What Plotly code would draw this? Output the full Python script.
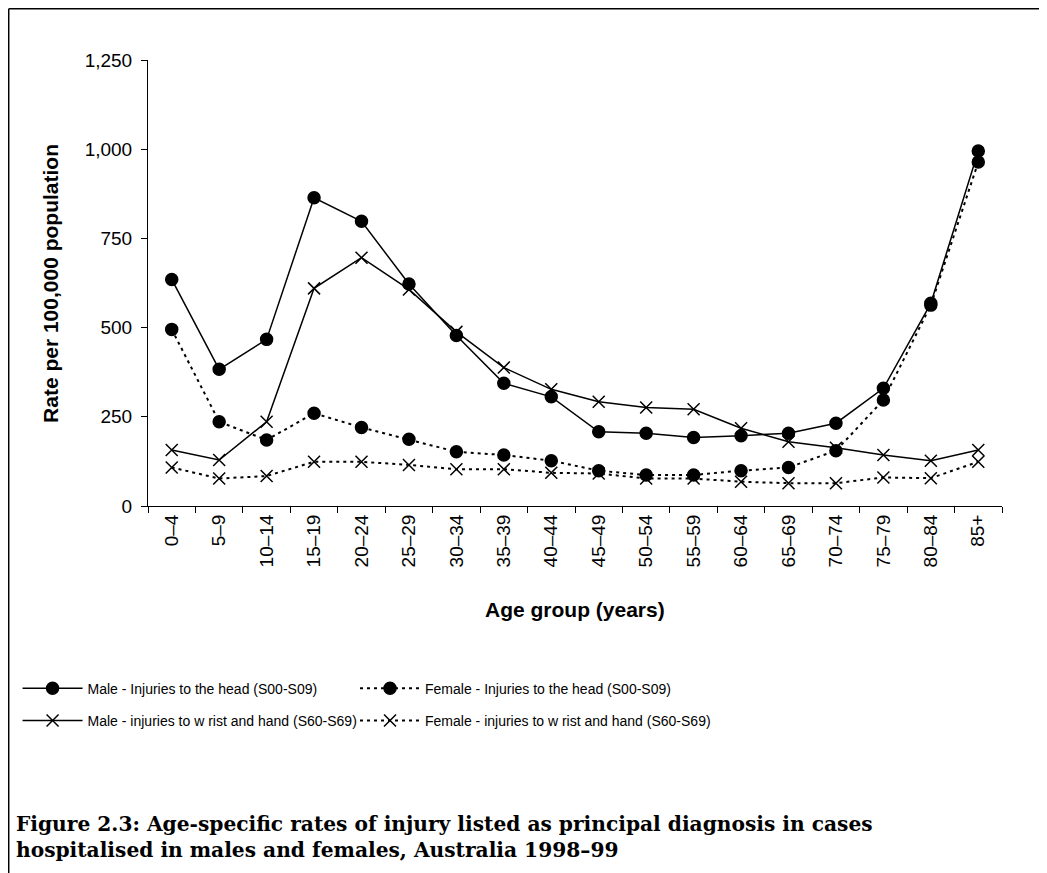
import plotly.graph_objects as go

# age groups and rates per 100,000 population
age_groups = ["0–4", "5–9", "10–14", "15–19", "20–24", "25–29", "30–34", "35–39", "40–44",
              "45–49", "50–54", "55–59", "60–64", "65–69", "70–74", "75–79", "80–84", "85+"]

male_head = [635, 383, 467, 864, 798, 622, 478, 344, 306, 208, 204, 192, 197, 204, 232, 330, 568, 995]
female_head = [495, 236, 185, 260, 220, 187, 152, 143, 127, 99, 87, 87, 99, 108, 155, 297, 563, 964]
male_wrist = [157, 129, 236, 610, 696, 607, 488, 388, 327, 292, 276, 271, 218, 180, 163, 143, 127, 157]
female_wrist = [108, 77, 84, 124, 124, 115, 103, 103, 93, 91, 77, 77, 68, 64, 64, 80, 78, 124]

FONT = "Liberation Sans, Arial, sans-serif"
SERIF = "DejaVu Serif, serif"

series = [
    ("Male - Injuries to the head (S00-S09)", male_head, "solid", "circle", "legend"),
    ("Male - injuries to w rist and hand (S60-S69)", male_wrist, "solid", "x-thin-open", "legend"),
    ("Female - Injuries to the head (S00-S09)", female_head, "3px,4px", "circle", "legend2"),
    ("Female - injuries to w rist and hand (S60-S69)", female_wrist, "3px,4px", "x-thin-open", "legend2"),
]

fig = go.Figure()
for i, (name, vals, dash, sym, leg) in enumerate(series):
    fig.add_trace(go.Scatter(
        x=age_groups, y=vals, mode="lines+markers", name=name,
        line=dict(color="black", width=2 if dash != "solid" else 1.5, dash=dash),
        marker=dict(symbol=sym, size=12, color="black", line=dict(color="black", width=1.5)),
        legend=leg, legendgroup=f"g{i}",
    ))

leg_common = dict(
    orientation="v", xref="container", yref="container", xanchor="left", yanchor="top",
    font=dict(family=FONT, size=14, color="black"), bgcolor="rgba(0,0,0,0)",
    tracegroupgap=11, itemwidth=60,
)

# page has an 8px body margin, so the figure is sized to fit the window
fig.update_layout(
    width=1039, height=865,
    paper_bgcolor="white", plot_bgcolor="white",
    margin=dict(l=140, r=45, t=52, b=367, autoexpand=False),
    font=dict(family=FONT, color="black"),
    xaxis=dict(
        type="category", range=[-0.5, 17.5], tickangle=-90, automargin=False,
        tickson="boundaries", ticks="outside", ticklen=6, tickcolor="black",
        showline=True, linecolor="black", linewidth=1, showgrid=False,
        tickfont=dict(family=FONT, size=19, color="black"),
    ),
    yaxis=dict(
        range=[0, 1250], dtick=250, tickformat=",", ticks="outside", ticklen=6, automargin=False,
        tickcolor="black", showline=True, linecolor="black", linewidth=1, showgrid=False,
        zeroline=False, tickfont=dict(family=FONT, size=19, color="black"),
        ticklabelstandoff=5,
    ),
    legend=dict(x=0.0092, y=0.2316, **leg_common),
    legend2=dict(x=0.334, y=0.2316, **leg_common),
    showlegend=True,
)

# axis titles
fig.add_annotation(xref="paper", yref="paper", x=-0.1148, y=0.5, textangle=-90,
                   xanchor="center", yanchor="middle",
                   showarrow=False, text="<b>Rate per 100,000 population</b>",
                   font=dict(family=FONT, size=21, color="black"))
fig.add_annotation(xref="paper", yref="paper", x=0.5, y=-0.231,
                   xanchor="center", yanchor="middle",
                   showarrow=False, text="<b>Age group (years)</b>",
                   font=dict(family=FONT, size=21, color="black"))

# frame around the figure (left and top edges visible)
fig.add_shape(type="line", xref="paper", yref="paper", x0=-0.1631, x1=-0.1631, y0=1.1149, y1=-0.9,
              line=dict(color="black", width=1.5))
fig.add_shape(type="line", xref="paper", yref="paper", x0=-0.1631, x1=1.1, y0=1.1149, y1=1.1149,
              line=dict(color="black", width=1.5))

fig.add_annotation(
    xref="paper", yref="paper", x=-0.1569, y=-0.681, xanchor="left", yanchor="top",
    align="left", showarrow=False,
    text="<b>Figure 2.3: Age-specific rates of injury listed as principal diagnosis in cases<br>"
         "hospitalised in males and females, Australia 1998–99</b>",
    font=dict(family=SERIF, size=20.2, color="black"),
)

fig.write_html("out.html")
